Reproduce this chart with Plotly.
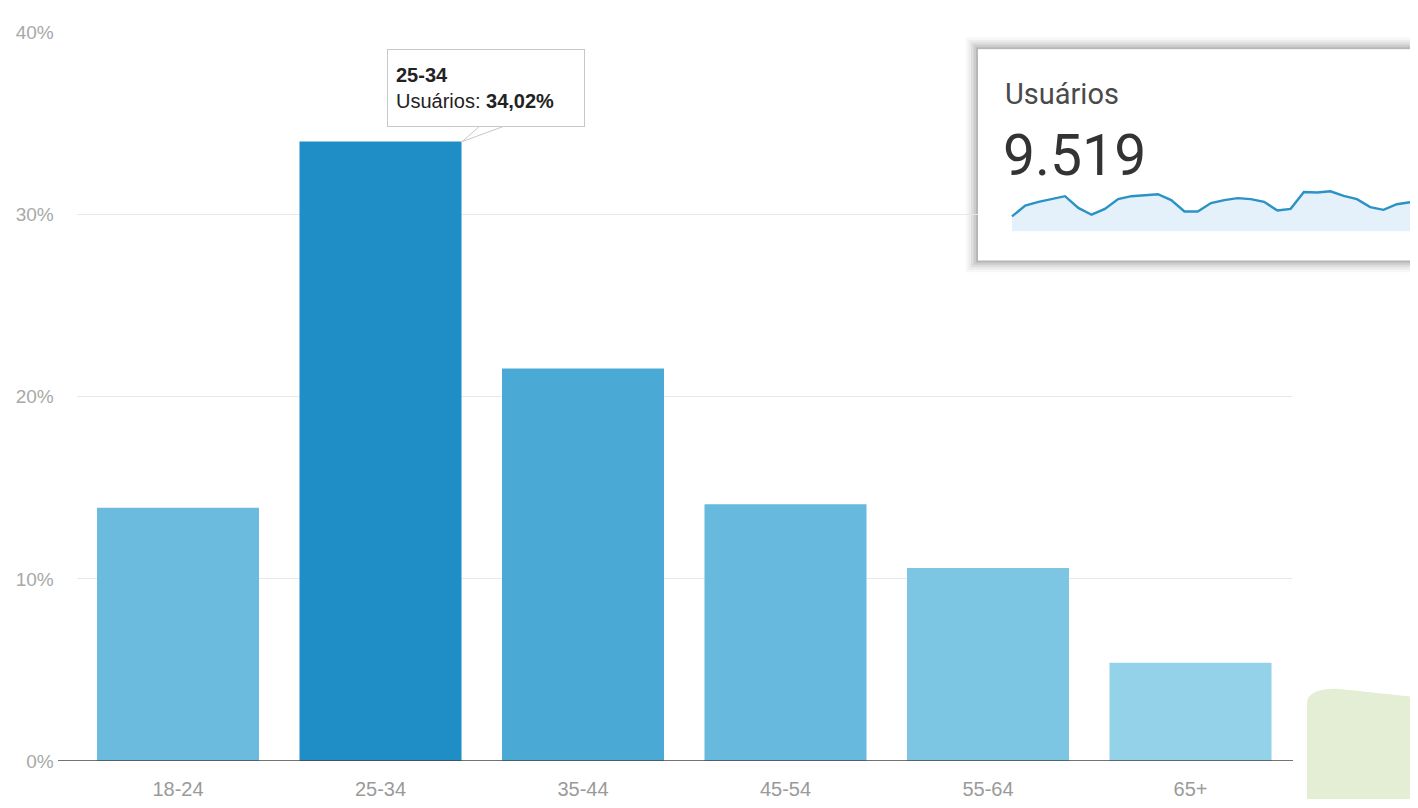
import plotly.graph_objects as go

# faixa etária x % de usuários
faixas = ['18-24', '25-34', '35-44', '45-54', '55-64', '65+']
usuarios_pct = [13.9, 34.02, 21.55, 14.1, 10.6, 5.4]
cores = ['#6bbbdf', '#1f8dc6', '#4aaad5', '#67b9de', '#7cc5e3', '#94d2ea']
yticks = [0, 10, 20, 30, 40]

# card "Usuários"
total_usuarios = '9.519'
usuarios_dia = [253, 297, 313, 324, 336, 288, 260, 284, 324, 336, 340,
                344, 320, 273, 273, 308, 320, 328, 324, 313, 277, 284,
                353, 351, 356, 337, 324, 291, 280, 303, 311]
dias = list(range(len(usuarios_dia)))
base_spark = 192

# a página tem margem de 8px no body, então a figura fica deslocada
OFF = 8
W, H = 1418 - OFF, 808 - OFF


def px(x):
    return (x - OFF) / W


def py(y):
    return (H - (y - OFF)) / H


fig = go.Figure()

fig.add_trace(go.Bar(
    x=faixas, y=usuarios_pct, marker=dict(color=cores, line=dict(width=0)),
    hoverinfo='skip', showlegend=False,
))

# sparkline
fig.add_trace(go.Scatter(
    x=dias, y=[base_spark] * len(dias), mode='lines', line=dict(width=0),
    xaxis='x2', yaxis='y2', hoverinfo='skip', showlegend=False,
))
fig.add_trace(go.Scatter(
    x=dias, y=usuarios_dia, mode='lines', fill='tonexty',
    fillcolor='#e4f1fa', line=dict(color='#2b92c6', width=2.4),
    xaxis='x2', yaxis='y2', hoverinfo='skip', showlegend=False,
))

shapes = []
# sombra do card
for i, a in enumerate([0.03, 0.045, 0.06, 0.08, 0.1]):
    d = 12 - i * 2.5
    shapes.append(dict(type='rect', xref='paper', yref='paper',
                       x0=px(978 - d), x1=px(1425), y0=py(257 + d), y1=py(40 - d),
                       fillcolor='rgba(0,0,0,%s)' % a, line=dict(width=0), layer='below'))

# linha do eixo x (começa antes das grades)
shapes.append(dict(type='line', xref='paper', yref='y', x0=px(58), x1=px(1293), y0=0, y1=0,
                   line=dict(color='#444', width=1.5), layer='above'))

# forma verde no canto
shapes.append(dict(
    type='path', xref='paper', yref='paper', layer='above',
    path='M %f,%f L %f,%f Q %f,%f %f,%f L %f,%f L %f,%f Z' % (
        px(1307), py(810), px(1307), py(712), px(1307), py(696), px(1340), py(697),
        px(1420), py(706), px(1420), py(810)),
    fillcolor='#e4eed4', line=dict(width=0)))

# ponta do tooltip
shapes.append(dict(
    type='path', xref='paper', yref='paper', layer='above',
    path='M %f,%f L %f,%f L %f,%f' % (px(481), py(118), px(462), py(135), px(507), py(118)),
    fillcolor='white', line=dict(color='#c8c8c8', width=1)))

annotations = [
    dict(xref='paper', yref='paper', x=px(387), y=py(40), xanchor='left', yanchor='top',
         text='<b>%s</b><br>Usuários: <b>%s%%</b>' % (faixas[1], f'{usuarios_pct[1]:.2f}'.replace('.', ',')),
         showarrow=False, align='left', bgcolor='white', bordercolor='#c8c8c8', borderwidth=1,
         borderpad=8, width=180, height=60, valign='middle',
         font=dict(family='Liberation Sans, Arial', size=20, color='#222')),
    dict(xref='paper', yref='paper', x=px(1003), y=py(86), xanchor='left', yanchor='middle',
         text='Usuários', showarrow=False,
         font=dict(family='Roboto', size=29, color='#4a4a4a')),
    dict(xref='paper', yref='paper', x=px(1001), y=py(149), xanchor='left', yanchor='middle',
         text=total_usuarios, showarrow=False,
         font=dict(family='Roboto', size=57, color='#333333')),
]

fig.update_layout(
    width=W, height=H,
    margin=dict(l=0, r=0, t=0, b=0),
    paper_bgcolor='white', plot_bgcolor='white',
    bargap=0.2,
    font=dict(family='Liberation Sans, Arial', color='#999'),
    xaxis=dict(domain=[px(76.75), px(1291.75)], showline=False,
               ticks='', tickfont=dict(size=20, color='#9a9a9a'), ticklabelstandoff=14,
               showgrid=False, fixedrange=True),
    yaxis=dict(domain=[py(771), py(23)], range=[0, 40], tickvals=yticks,
               ticktext=['%d%%' % v for v in yticks], showgrid=True, gridcolor='#e8e8e8',
               gridwidth=1, zeroline=False, tickfont=dict(size=19, color='#a8a8a8'),
               ticklabelstandoff=22),
    xaxis2=dict(domain=[px(978), 1.0], anchor='y2', range=[-2.56, 30.6],
                visible=False, showgrid=False, zeroline=False),
    yaxis2=dict(domain=[py(257), py(40)], anchor='x2', range=[72, 940],
                visible=False, showgrid=False, zeroline=False),
    shapes=shapes,
    annotations=annotations,
)

fig.write_html('out.html')
